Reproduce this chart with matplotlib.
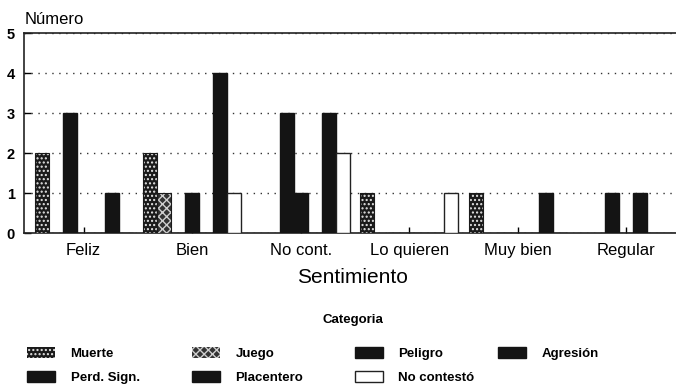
import matplotlib
matplotlib.use('Agg')
import matplotlib.pyplot as plt
import numpy as np

plt.rcParams['font.family'] = ['Liberation Sans', 'DejaVu Sans']
plt.rcParams['hatch.linewidth'] = 1.0

sentimientos = ['Feliz', 'Bien', 'No cont.', 'Lo quieren', 'Muy bien', 'Regular']
categorias = ['Muerte', 'Juego', 'Peligro', 'Agresión', 'Perd. Sign.',
              'Placentero', 'No contestó']

muerte = [2, 2, 0, 1, 1, 0]
juego = [0, 1, 0, 0, 0, 0]
peligro = [3, 0, 3, 0, 0, 1]
agresion = [0, 1, 1, 0, 0, 0]
perd_sign = [0, 0, 0, 0, 0, 1]
placentero = [1, 4, 3, 0, 1, 0]
no_contesto = [0, 1, 2, 1, 0, 0]

series = [muerte, juego, peligro, agresion, perd_sign, placentero, no_contesto]

# (facecolor, hatch colour, hatch)
estilos = [
    ('#1a1a1a', '#e6e6e6', '....'),
    ('#333333', '#cfcfcf', 'xxxx'),
    ('#141414', '#141414', None),
    ('#141414', '#141414', None),
    ('#141414', '#141414', None),
    ('#141414', '#141414', None),
    ('white', '#222222', None),
]

fig = plt.figure(figsize=(6.76, 3.89), dpi=100)
ax = fig.add_axes([0.0355, 0.401, 0.9645, 0.514])

x = np.arange(len(sentimientos))
w = 0.129
handles = []
for i, (vals, (fc, ec, h)) in enumerate(zip(series, estilos)):
    pos = x + (i - 3) * w
    if h:
        b = ax.bar(pos, vals, w, color=fc, edgecolor=ec, hatch=h,
                   linewidth=0, zorder=3)
        ax.bar(pos, vals, w, fill=False, edgecolor='#1a1a1a',
               linewidth=0.8, zorder=4)
    else:
        b = ax.bar(pos, vals, w, color=fc, edgecolor=ec, linewidth=1.0,
                   zorder=3)
    handles.append(b)

ax.set_xlim(-0.55, 5.46)
ax.set_ylim(0, 5)
ax.set_yticks(range(6))
ax.set_yticklabels([str(v) for v in range(6)], fontsize=10.5, fontweight='bold')
ax.set_xticks(x)
ax.set_xticklabels(sentimientos, fontsize=12)
ax.tick_params(axis='x', direction='in', length=4, width=1, pad=7)
ax.tick_params(axis='y', direction='in', length=5, width=1, pad=6.5)
ax.yaxis.grid(True, linestyle=(0, (1, 4)), color='#333333', linewidth=1.0)
ax.set_axisbelow(True)
ax.spines['right'].set_visible(False)
for s in ['left', 'top', 'bottom']:
    ax.spines[s].set_linewidth(1.2)
    ax.spines[s].set_color('#222222')

ax.set_xlabel('Sentimiento', fontsize=15)
ax.xaxis.set_label_coords(0.5045, -0.175)
fig.text(0.037, 0.949, 'Número', fontsize=12, ha='left', va='center')

# legend laid out column by column
fig.text(0.522, 0.177, 'Categoria', fontsize=9.5, fontweight='bold',
         ha='center', va='center')
columnas = [[0, 4], [1, 5], [2, 6], [3]]
x_cols = [0.040, 0.284, 0.525, 0.737]
for xc, idx in zip(x_cols, columnas):
    fig.legend([handles[k] for k in idx], [categorias[k] for k in idx],
               loc='upper left', bbox_to_anchor=(xc, 0.108), ncol=1,
               frameon=False, prop={'size': 9.5, 'weight': 'bold'},
               handlelength=2.1, handleheight=0.85, handletextpad=1.2,
               labelspacing=0.85, borderpad=0, borderaxespad=0)

fig.savefig('out.png', dpi=100)
